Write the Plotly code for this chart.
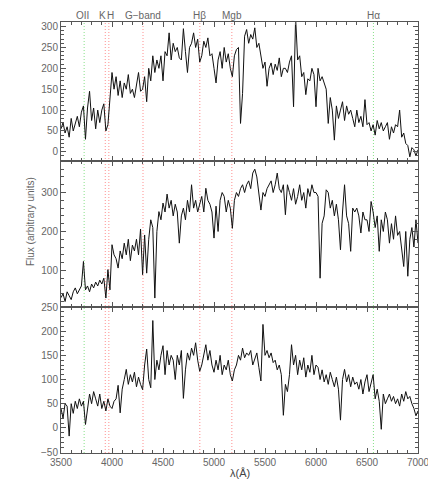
import plotly.graph_objects as go
from plotly.subplots import make_subplots

wavelength = list(range(3500, 7001, 20))

flux_top = [
    55, 70, 45, 60, 35,
    80, 50, 65, 85, 60,
    95, 110, 30, 105, 145,
    75, 105, 55, 100, 70,
    100, 115, 50, 65, 125,
    190, 150, 180, 135, 170,
    130, 165, 150, 185, 140,
    150, 130, 160, 190, 145,
    150, 180, 120, 200, 170,
    230, 190, 220, 200, 230,
    170, 240, 230, 285, 220,
    260, 240, 250, 225, 220,
    295, 240, 190, 250, 260,
    285, 250, 270, 215, 230,
    265, 250, 273, 230, 235,
    200, 165, 220, 240, 200,
    250, 215, 235, 200, 180,
    230, 245, 250, 68, 140,
    277, 293, 260, 281, 270,
    297, 250, 260, 230, 200,
    215, 157, 200, 213, 185,
    210, 195, 225, 180, 200,
    200, 190, 215, 230, 108,
    322, 220, 230, 180, 190,
    137, 175, 170, 200, 185,
    108, 200, 170, 180, 165,
    150, 68, 130, 100, 28,
    110, 80, 100, 120, 75,
    110, 90, 100, 80, 60,
    100, 70, 85, 60, 125,
    65, 70, 50, 65, 40,
    75, 55, 70, 50, 60,
    70, 30, 60, 45, 65,
    60, 100, 35, 45, 20,
    15, -12, 10, 5, -10,
    5,
]

flux_mid = [
    30, 40, 20, 45, 35,
    25, 45, 55, 40, 50,
    60, 123, 50, 60, 45,
    65, 55, 70, 60, 75,
    65, 80, 29, 102, 50,
    166, 140, 130, 106, 150,
    130, 170, 140, 180, 125,
    165, 150, 180, 140, 206,
    89, 191, 93, 180, 230,
    210, 29, 200, 251, 230,
    273, 250, 296, 260, 280,
    240, 270, 250, 170, 240,
    260, 230, 280, 250, 320,
    260, 280, 250, 270, 290,
    250, 311, 280, 270, 250,
    183, 265, 200, 280, 300,
    290, 250, 280, 260, 208,
    280, 300, 290, 310, 320,
    300, 320, 330, 310, 350,
    360, 340, 300, 255, 300,
    290, 310, 320, 330, 300,
    320, 350, 310, 300, 320,
    243, 320, 300, 280, 310,
    270, 290, 320, 280, 300,
    260, 310, 290, 320, 300,
    300, 290, 80, 221, 240,
    307, 300, 260, 280, 240,
    270, 230, 153, 250, 320,
    240, 220, 149, 260, 250,
    260, 240, 196, 250, 230,
    230, 200, 277, 250, 210,
    240, 149, 230, 200, 250,
    230, 170, 220, 180, 240,
    190, 200, 150, 110, 200,
    85, 180, 210, 160, 230,
    170,
]

flux_bot = [
    40, 20, 50, 45, -17,
    50, 30, 55, 40, 60,
    45, 55, 7, 35, 70,
    50, 75, 60, 45, 70,
    40, 55, 35, 60, 45,
    40, 55, 60, 88, 31,
    80, 100, 121, 90, 110,
    95, 115, 85, 105, 90,
    79, 130, 163, 100, 83,
    222, 100, 140, 120, 150,
    170, 110, 160, 130, 150,
    140, 100, 150, 130, 160,
    61, 120, 155, 140, 165,
    150, 176, 140, 117, 130,
    150, 172, 140, 160, 130,
    115, 140, 120, 150, 110,
    130, 120, 140, 110, 97,
    120, 130, 150, 140, 165,
    145, 155, 150, 160, 130,
    145, 155, 125, 97, 214,
    150, 160, 145, 155, 135,
    140, 120, 130, 110, 26,
    90, 75, 110, 172, 130,
    150, 110, 140, 120, 145,
    105, 130, 115, 150, 110,
    130, 125, 100, 120, 95,
    110, 90, 115, 100, 85,
    105, 80, 16, 100, 121,
    95, 110, 85, 105, 90,
    95, 80, 100, 70, 95,
    110, 75, 90, 110, 60,
    80, 55, -3, 70, 50,
    60, 70, 55, 65, 50,
    60, 45, 70, 55, 75,
    60, 65, 50, 40, 25,
    35,
]

line_names = ["OII", "K", "H", "G\u2212band", "H\u03b2", "Mgb", "H\u03b1"]
line_waves = [3727, 3934, 3969, 4304, 4861, 5175, 6563]
line_colors = ["#88e088", "#ff8f8f", "#ff8f8f", "#ff8f8f", "#ff8f8f", "#ff8f8f", "#88e088"]
label_waves = [3715, 3905, 3985, 4300, 4861, 5175, 6563]

fig = make_subplots(rows=3, cols=1, shared_xaxes=True, vertical_spacing=0,
                    row_heights=[139, 146, 146])

for i, f in enumerate([flux_top, flux_mid, flux_bot]):
    fig.add_trace(go.Scatter(x=wavelength, y=f, mode="lines",
                             line=dict(color="#111111", width=1),
                             showlegend=False, hoverinfo="skip"), row=i + 1, col=1)

font = dict(family="Liberation Sans, Arial, sans-serif", size=10, color="#666666")
axcol = "#555555"

for i in range(1, 4):
    fig.update_xaxes(range=[3500, 7000], dtick=500, tick0=3500, ticks="inside", ticklen=5,
                     mirror="allticks", showline=True, linecolor=axcol, linewidth=1,
                     tickcolor=axcol, showgrid=False, zeroline=False, tickfont=font,
                     automargin=False,
                     minor=dict(ticks="inside", ticklen=3, dtick=100, tickcolor=axcol),
                     showticklabels=(i == 3), row=i, col=1)

yranges = [[-22, 311], [6, 381], [-52, 250]]
ydticks = [50, 100, 50]
yminor = [10, 20, 10]
for i in range(3):
    fig.update_yaxes(range=yranges[i], dtick=ydticks[i], tick0=0, ticks="inside", ticklen=5,
                     mirror="allticks", showline=True, linecolor=axcol, linewidth=1,
                     tickcolor=axcol, showgrid=False, zeroline=False, tickfont=font,
                     automargin=False,
                     minor=dict(ticks="inside", ticklen=3, dtick=yminor[i], tickcolor=axcol),
                     row=i + 1, col=1)

for w, c in zip(line_waves, line_colors):
    fig.add_shape(type="line", xref="x", yref="paper", x0=w, x1=w, y0=0, y1=1,
                  line=dict(color=c, width=1, dash="1px,2px"), layer="below")

for n, w in zip(line_names, label_waves):
    fig.add_annotation(x=w, y=1.0, xref="x", yref="paper", text=n, showarrow=False,
                       xanchor="center", yanchor="bottom", yshift=0, borderpad=0, font=font)

fig.add_annotation(x=-0.087, y=0.538, xref="paper", yref="paper", text="Flux (arbitrary units)",
                   textangle=-90, showarrow=False, xanchor="center", yanchor="middle", font=font)
fig.add_annotation(x=0.5, y=0, xref="paper", yref="paper", text="\u03bb(\u00c5)",
                   showarrow=False, xanchor="center", yanchor="top", yshift=-12,
                   font=dict(family=font["family"], size=11, color="#444444"))

fig.update_layout(width=428, height=483, margin=dict(l=53, r=18, t=14, b=38, autoexpand=False),
                  plot_bgcolor="white", paper_bgcolor="white")

fig.write_html("out.html")
